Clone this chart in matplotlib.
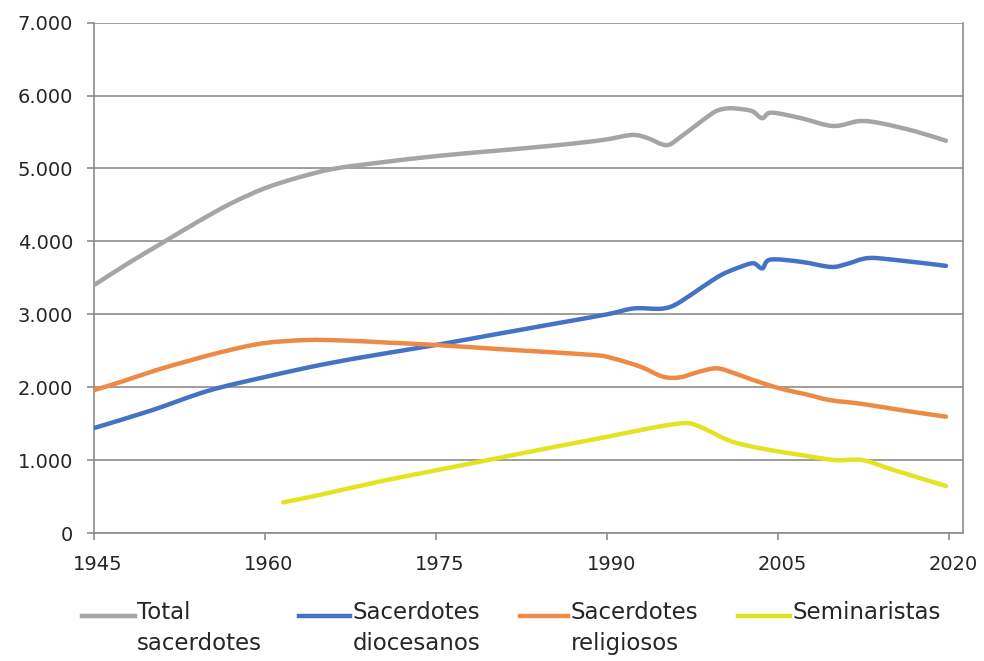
import matplotlib
matplotlib.use("Agg")
import numpy as np
import matplotlib.pyplot as plt
import matplotlib.transforms as mtransforms
from matplotlib.lines import Line2D
from matplotlib.path import Path
from matplotlib.patches import PathPatch
from matplotlib.ticker import FuncFormatter

# data (year, value)
years_total = [1945, 1948, 1951, 1954, 1957, 1960, 1963, 1966, 1970, 1975, 1980, 1985,
               1988, 1990, 1992.2, 1993.5, 1995.2, 1996.5, 1998.4, 1999.6, 2000.7, 2002,
               2002.8, 2003.6, 2004.4, 2007, 2009.8, 2012.1, 2014, 2017, 2019.7]
total = [3400, 3700, 3980, 4260, 4520, 4730, 4880, 4995, 5080, 5170, 5240, 5310,
         5360, 5400, 5460, 5420, 5320, 5440, 5665, 5790, 5826, 5810,
         5780, 5690, 5766, 5690, 5583, 5650, 5620, 5510, 5380]

years_dioc = [1945, 1950, 1955, 1960, 1965, 1970, 1975, 1980, 1985, 1990, 1992.3, 1994.5,
              1995.5, 1996.5, 1998.4, 2000, 2001.5, 2002.8, 2003.6, 2004.3, 2007, 2009.6,
              2011, 2012.8, 2015, 2019.7]
dioc = [1440, 1680, 1950, 2140, 2310, 2450, 2580, 2720, 2860, 3000, 3080, 3075,
        3100, 3180, 3380, 3540, 3640, 3700, 3630, 3750, 3720, 3650,
        3690, 3770, 3750, 3665]

years_rel = [1945, 1947.5, 1950.5, 1953.5, 1956.3, 1959.8, 1963.6, 1967, 1971, 1975,
             1981.8, 1988.8, 1990.5, 1992.9, 1994.9, 1996.4, 1998, 1999.6, 2001, 2002.8,
             2005.1, 2007.5, 2009.5, 2012.4, 2016, 2019.7]
rel = [1960, 2080, 2236, 2370, 2487, 2602, 2647, 2640, 2610, 2579,
       2510, 2442, 2396, 2282, 2144, 2136, 2210, 2259, 2200, 2099,
       1985, 1900, 1824, 1770, 1680, 1596]

years_sem = [1961.6, 1965, 1970, 1975, 1980, 1985, 1990, 1994, 1996, 1997.2, 1998.4,
             2000.5, 2002, 2004.2, 2007, 2010, 2012.4, 2015, 2019.7]
sem = [420, 530, 705, 860, 1015, 1170, 1320, 1445, 1495, 1505, 1440,
       1280, 1210, 1140, 1070, 1000, 1000, 870, 645]

labels = ["Total\nsacerdotes", "Sacerdotes\ndiocesanos", "Sacerdotes\nreligiosos", "Seminaristas"]
colors = ["#A5A5A5", "#4472C4", "#ED8A45", "#E3E320"]
xticks = [1945, 1960, 1975, 1990, 2005, 2020]


def smooth_path(x, y):
    # excel-like smoothed line: bezier segments through the data points
    p = np.column_stack([x, y]).astype(float)
    n = len(p)
    verts = [p[0]]
    codes = [Path.MOVETO]
    for i in range(n - 1):
        prev = p[i - 1] if i > 0 else p[i]
        nxt = p[i + 2] if i + 2 < n else p[i + 1]
        c1 = p[i] + (p[i + 1] - prev) / 6
        c2 = p[i + 1] - (nxt - p[i]) / 6
        verts += [c1, c2, p[i + 1]]
        codes += [Path.CURVE4] * 3
    return Path(verts, codes)


fig = plt.figure(figsize=(9.84, 6.61), dpi=100)
ax = fig.add_axes([0.0955, 0.1936, 0.8832, 0.7721])

series = [(years_total, total), (years_dioc, dioc), (years_rel, rel), (years_sem, sem)]
for (x, y), c in zip(series, colors):
    ax.add_patch(PathPatch(smooth_path(x, y), facecolor="none", edgecolor=c, lw=3.2,
                           capstyle="round", joinstyle="round", zorder=3))

grid_c = "#8C8C8C"
ax.set_xlim(1945, 2021.2)
ax.set_ylim(0, 7000)
ax.set_yticks(range(0, 7001, 1000))
ax.set_xticks(xticks)
ax.yaxis.set_major_formatter(FuncFormatter(lambda v, p: f"{v:,.0f}".replace(",", ".")))
ax.grid(axis="y", color=grid_c, lw=1.2)
ax.set_axisbelow(True)
for s in ax.spines.values():
    s.set_color(grid_c)
    s.set_linewidth(1.2)
ax.spines["top"].set_visible(False)
ax.tick_params(axis="both", direction="out", length=5, width=1.2, color=grid_c,
               labelsize=14, labelcolor="#262626", pad=10)
ax.tick_params(axis="x", pad=11)

# x labels sit slightly right of their ticks in the reference
shift = mtransforms.ScaledTranslation(4 / 100, 0, fig.dpi_scale_trans)
for lab in ax.get_xticklabels():
    lab.set_transform(lab.get_transform() + shift)

# legend: handle level with the first line of the label
W, H = 984, 661
handle_x = [(82, 135), (299, 350), (520, 568), (738, 790)]
text_x = [137, 353, 571, 793]
y_line = 616
for (x0, x1), tx, c, lab in zip(handle_x, text_x, colors, labels):
    fig.add_artist(Line2D([x0 / W, x1 / W], [1 - y_line / H, 1 - y_line / H],
                          color=c, lw=3.2, transform=fig.transFigure))
    fig.text(tx / W, 1 - 601 / H, lab, fontsize=16.5, color="#262626",
             va="top", ha="left", linespacing=1.45)

fig.savefig("out.png", dpi=100)
